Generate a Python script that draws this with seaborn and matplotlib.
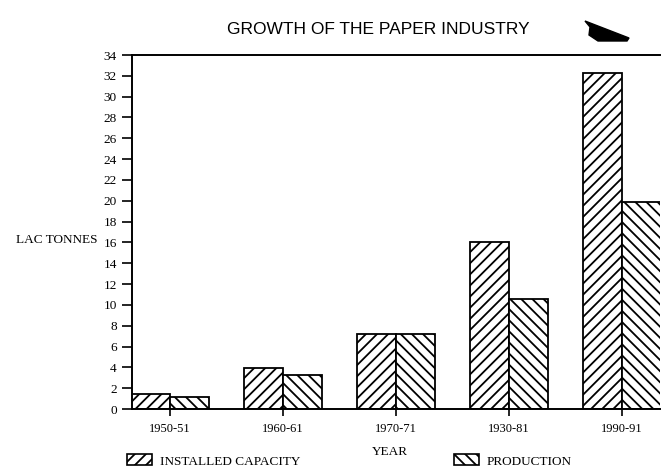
import pandas as pd
import matplotlib.pyplot as plt
import seaborn as sns
from matplotlib.patches import Patch, Polygon

# --- Data (lakh tonnes) ---
years = ['1950-51', '1960-61', '1970-71', '1930-81', '1990-91']
installed_capacity = [1.4, 3.9, 7.2, 16.0, 32.3]
production = [1.2, 3.3, 7.2, 10.6, 19.9]
y_ticks = list(range(0, 35, 2))

df = pd.DataFrame({
    'year': years * 2,
    'value': installed_capacity + production,
    'series': ['INSTALLED CAPACITY'] * len(years) + ['PRODUCTION'] * len(years),
})

# --- Setup ---
sns.set_style("ticks")
plt.rcParams['font.family'] = ['Liberation Serif', 'DejaVu Serif']
plt.rcParams['hatch.linewidth'] = 1.3
plt.rcParams['hatch.color'] = 'black'
for key in ['text.color', 'axes.labelcolor', 'xtick.color', 'ytick.color', 'axes.edgecolor']:
    plt.rcParams[key] = 'black'

W, H = 661, 472
fig = plt.figure(figsize=(W / 100, H / 100), dpi=100)
ax = fig.add_axes([132 / W, 1 - 409 / H, 528 / W, 354 / H])

sns.barplot(data=df, x='year', y='value', hue='series', ax=ax,
            width=0.69, palette=['white', 'white'], edgecolor='black',
            linewidth=1.3, legend=False, saturation=1)

hatches = ['///', '\\\\\\']
for cont, h in zip(ax.containers, hatches):
    for bar in cont:
        bar.set_hatch(h)

ax.set_xlim(-0.336, 4.336)
ax.set_ylim(0, 34)
ax.set_yticks(y_ticks)
ax.set_xlabel('')
ax.set_ylabel('')
ax.spines['right'].set_visible(False)
for side in ['left', 'top', 'bottom']:
    ax.spines[side].set_linewidth(1.4)
ax.tick_params(axis='y', direction='out', length=7, width=1.2, labelsize=9.5, pad=4)
ax.tick_params(axis='x', direction='inout', length=10, width=1.2, labelsize=9, pad=5)

# --- Text ---
fig.text(378 / W, 1 - 29 / H, 'GROWTH OF THE PAPER INDUSTRY', ha='center', va='center',
         fontsize=12.5, family='Liberation Sans')
fig.text(98 / W, 1 - 240 / H, 'LAC TONNES', ha='right', va='center', fontsize=9.5)
fig.text(390 / W, 1 - 452 / H, 'YEAR', ha='center', va='center', fontsize=9.5)

# scan blot next to the title
blot = [(585, 21), (629, 38), (627, 41), (598, 41), (589, 35), (590, 27)]
fig.add_artist(Polygon([(x / W, 1 - y / H) for x, y in blot], closed=True,
                       transform=fig.transFigure, color='black'))

# --- Legends ---
for label, h, x0 in [('INSTALLED CAPACITY', '///', 127), ('PRODUCTION', '\\\\\\', 454)]:
    handle = Patch(facecolor='white', edgecolor='black', hatch=h, linewidth=1.2)
    fig.legend([handle], [label], loc='center left', frameon=False,
               bbox_to_anchor=(x0 / W, 1 - 461 / H), borderpad=0, borderaxespad=0,
               handlelength=1.9, handleheight=0.9, handletextpad=0.6, fontsize=9.5)

plt.savefig('out.png', dpi=100)
